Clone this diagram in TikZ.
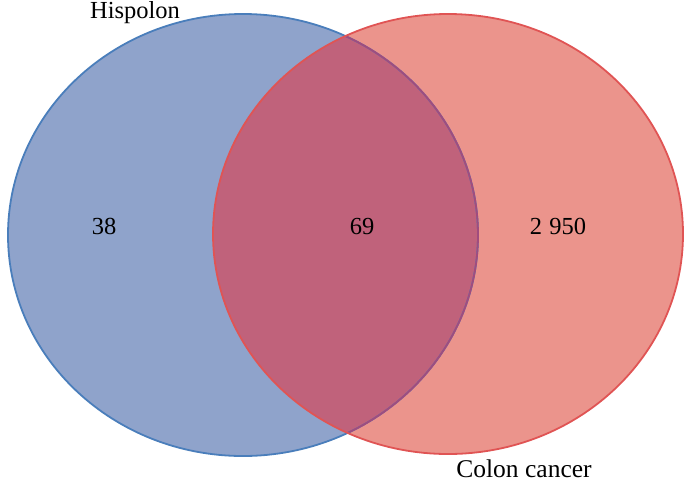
\documentclass[tikz,border=0pt]{standalone}
\usepackage{fontspec}
\setmainfont{Liberation Serif}
\definecolor{bluefill}{RGB}{143,163,203}
\definecolor{bluestroke}{RGB}{74,126,187}
\definecolor{redfill}{RGB}{235,148,140}
\definecolor{redstroke}{RGB}{224,84,84}
\definecolor{overlapfill}{RGB}{192,98,123}
\definecolor{purplestroke}{RGB}{160,76,126}
\begin{document}
\begin{tikzpicture}[x=1pt,y=-1pt,
  lbl/.style={font=\fontsize{24.5}{26}\selectfont, text=black, inner sep=0pt, anchor=base}]
\useasboundingbox (0,0) rectangle (700,483);
\def\blueellipse{(243,235) ellipse [x radius=235, y radius=221]}
\def\redellipse{(448,234) ellipse [x radius=235, y radius=220]}
\fill[bluefill] \blueellipse;
\fill[redfill] \redellipse;
\begin{scope}
  \clip \blueellipse;
  \fill[overlapfill] \redellipse;
\end{scope}
\draw[bluestroke, line width=1.8pt] \blueellipse;
\begin{scope}
  \clip \redellipse;
  \draw[purplestroke, line width=1.8pt] \blueellipse;
\end{scope}
\draw[redstroke, line width=1.8pt] \redellipse;
\node[lbl] (hisp) at (135,18.5) {Hispolon};
\node[lbl, font=\fontsize{25.5}{27}\selectfont] (colon) at (524,477.5) {Colon cancer};
\node[lbl] (a) at (104,234.3) {38};
\node[lbl] (b) at (362,234.3) {69};
\node[lbl] (c) at (558,234.3) {2\kern0.3em950};
\end{tikzpicture}
\end{document}
